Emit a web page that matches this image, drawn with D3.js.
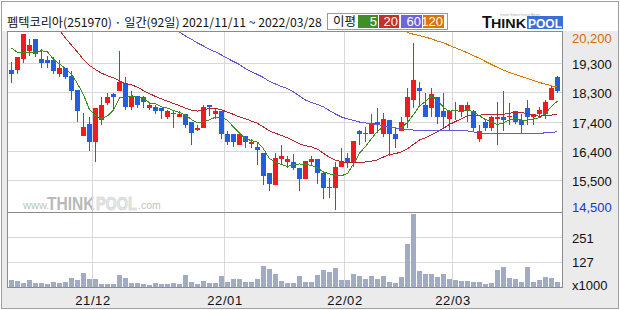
<!DOCTYPE html>
<html>
<head>
<meta charset="utf-8">
<script src="https://cdn.jsdelivr.net/npm/d3@7"></script>
<style>
  body { margin: 0; background: #fff; }
  svg { display: block; }
</style>
</head>
<body>
<div id="chart"></div>
<script>
// 92 trading days shown on the chart
const dates = [
  "21/11/11","21/11/12","21/11/15","21/11/16","21/11/17","21/11/18","21/11/19","21/11/22","21/11/23","21/11/24",
  "21/11/25","21/11/26","21/11/29","21/11/30",
  "21/12/01","21/12/02","21/12/03","21/12/06","21/12/07","21/12/08","21/12/09","21/12/10","21/12/13","21/12/14",
  "21/12/15","21/12/16","21/12/17","21/12/20","21/12/21","21/12/22","21/12/23","21/12/24","21/12/27","21/12/28",
  "21/12/29","21/12/30",
  "22/01/03","22/01/04","22/01/05","22/01/06","22/01/07","22/01/10","22/01/11","22/01/12","22/01/13","22/01/14",
  "22/01/17","22/01/18","22/01/19","22/01/20","22/01/21","22/01/24","22/01/25","22/01/26","22/01/27","22/01/28",
  "22/02/03","22/02/04","22/02/07","22/02/08","22/02/09","22/02/10","22/02/11","22/02/14","22/02/15","22/02/16",
  "22/02/17","22/02/18","22/02/21","22/02/22","22/02/23","22/02/24","22/02/25","22/02/28",
  "22/03/02","22/03/03","22/03/04","22/03/07","22/03/08","22/03/10","22/03/11","22/03/14","22/03/15","22/03/16",
  "22/03/17","22/03/18","22/03/21","22/03/22","22/03/23","22/03/24","22/03/25","22/03/28"
];

// daily prices, KRW
const open = [
  19050,19050,19400,19650,20050,19400,19350,19350,18900,19100,
  18850,18400,16900,17300,16700,17400,17950,18250,18350,18600,
  17850,18200,18150,17800,17850,17800,17500,17650,17500,17600,
  17350,17100,17150,17900,17600,17700,16950,16950,16600,16900,
  16650,16550,16350,15700,15300,16150,16050,16050,15850,15500,
  16050,16150,15700,15250,15200,15900,16200,16050,17050,16950,
  16950,17350,16950,17400,16950,17050,17500,18050,18450,17900,
  17800,18150,17700,17450,17700,17700,17750,17700,16800,17350,
  17150,17450,17500,17500,17700,17400,17800,17500,17600,17600,
  18050,18800
];
const high = [
  19300,19450,20200,20050,20050,19700,19500,19450,19350,19100,
  19000,18400,17650,17500,17800,18150,18300,18300,19650,18800,
  18350,18200,18200,18000,17900,17800,17750,17700,17700,17600,
  17350,17250,17900,17900,17800,17700,17050,16950,16950,16900,
  16800,16700,16350,15700,16350,16600,16250,16300,15850,16100,
  16250,16150,15750,15550,16050,16500,16350,16750,17100,17200,
  17600,17800,17650,17400,17200,17500,18450,19900,18650,18300,
  18450,18150,18300,17750,18000,17900,18000,17750,17250,17450,
  17550,18000,18350,17950,17700,17600,18050,17600,17850,18050,
  18500,18850
];
const low = [
  18600,18900,19250,19500,19450,19100,19100,18900,18800,18750,
  18050,17350,16900,16400,16050,17250,17900,17700,18350,17750,
  17750,17800,17800,17750,17600,17450,17450,17150,17500,17150,
  16600,17050,17150,17550,17450,16800,16600,16550,16600,16500,
  16500,15950,15300,15100,15300,15950,15850,15800,15100,15500,
  15950,15350,14850,14900,14500,15900,15850,15900,16600,16700,
  16950,17000,16850,16250,16500,17050,17150,17800,17900,17500,
  17500,17300,17150,17100,17400,17500,17350,17050,16700,17050,
  17050,16600,17050,17250,17300,17000,17250,17250,17550,17450,
  18050,18300
];
const close = [
  18900,19450,20200,19850,19550,19250,19250,19000,19100,18800,
  18350,17700,17200,16700,17800,17900,18150,18150,18650,17850,
  18200,17900,18000,17900,17700,17700,17700,17600,17600,17250,
  17000,17150,17850,17850,17700,16950,16700,16700,16950,16700,
  16700,16450,15600,15350,16200,16250,16150,15850,15500,16100,
  16150,15700,15200,15200,15900,16050,16050,16750,16950,17000,
  17300,17250,17450,16950,16800,17350,18150,18700,18350,17500,
  18250,17500,17500,17700,17750,17900,17900,17150,17050,17150,
  17500,17500,17400,17550,17350,17250,17500,17600,17750,18000,
  18450,18350
];
// volume, thousands of shares
const volume = [
  34,29,19,34,18,19,16,24,18,24,
  44,36,69,39,39,14,14,14,59,44,
  19,19,14,9,18,16,16,18,14,59,
  26,14,29,21,21,54,27,38,39,26,
  27,39,104,90,64,29,21,21,54,27,
  23,59,84,76,94,34,34,64,54,39,
  54,39,54,24,21,49,219,367,80,64,
  64,49,64,39,34,31,29,26,26,14,
  21,85,99,44,39,26,99,26,36,49,
  44,26
];

// moving-average values read off the chart where the older history is not in the data
const ma5Head = [19750, 19600, 19600, 19600];
const ma20Head = [null,null,null,null,null,null,null,null,20330,20060,19840,19610,19370,19180,19050,18930,18850,18780,18690];
const ma60 = Array(28).fill(null).concat([
  20260,20135,20030,19910,19810,19700,19620,19520,19410,19310,
  19210,19080,18980,18890,18790,18660,18580,18500,18430,18320,
  18190,18060,17980,17920,17840,17720,17610,17510,17450,17400,
  17350,17320,17290,17280,17220,17190,17160,17120,17110,17090,
  17060,17060,17060,17060,17060,17060,17060,17060,17060,17030,
  16980,16980,16980,16980,16980,16980,16980,16980,16980,16980,
  16980,17000,17020,17030
]);
const ma120 = Array(66).fill(null).concat([
  20250,20190,20150,20100,20040,19970,19920,19830,19750,19670,
  19590,19500,19410,19310,19210,19120,19030,18950,18890,18820,
  18760,18690,18630,18580,18520,18480
]);

const monthStarts = ["21/12/01", "22/01/03", "22/02/03", "22/03/02"];
const monthLabels = ["21/12", "22/01", "22/02", "22/03"];
const priceTicks = [20200, 19250, 18300, 17350, 16400, 15450, 14500];
const priceTickLabels = ["20,200", "19,300", "18,300", "17,400", "16,400", "15,500", "14,500"];
const volTicks = [127, 251];
const maNames = ["5", "20", "60", "120"];

const title = "펨텍코리아(251970) · 일간(92일) 2021/11/11 ~ 2022/03/28";

// colours
const UP = "#f01c1c", DOWN = "#1f5fe0";
const maColors = ["#3c8c1e", "#b4282d", "#6458d8", "#d87800"];
const legendColors = ["#3f8f25", "#c4302c", "#6e64dc", "#dc7400"];
const gridColor = "#d8d8d8";
const numFont = "'Liberation Sans Narrow','Liberation Sans',Arial,sans-serif";
const krFont = "'Noto Sans CJK KR','Noto Sans',sans-serif";

// layout
const W = 620, H = 310;
const frame = { left: 7, right: 562, top: 31, sep: 212, bottom: 287 };

const svg = d3.select("#chart").append("svg")
  .attr("width", W).attr("height", H);

// background: white title strip, grey frame, white plot
svg.append("rect").attr("width", W).attr("height", H).attr("fill", "#fff");
svg.append("rect").attr("x", 2).attr("y", frame.top).attr("width", 616).attr("height", 308 - frame.top)
  .attr("fill", "#ebebeb");
svg.append("rect").attr("x", 1.5).attr("y", 1.5).attr("width", 617).attr("height", 307)
  .attr("fill", "none").attr("stroke", "#a0a0a0");
svg.append("rect").attr("x", frame.left + 0.5).attr("y", frame.top + 0.5)
  .attr("width", frame.right - frame.left).attr("height", frame.bottom - frame.top)
  .attr("fill", "#fff");

// scales
const x = d3.scaleBand().domain(dates).range([8, 8 + 6 * dates.length]).padding(0);
const y = d3.scaleLinear().domain([14500, 20200]).range([210, 34]);
const yv = d3.scaleLinear().domain([0, 378]).range([frame.bottom, frame.sep]);

// watermark (condensed bold letters via a horizontal scale)
const wm = svg.append("g").attr("font-family", "'Liberation Sans',Arial,sans-serif");
wm.append("text").attr("x", 23).attr("y", 209).attr("font-size", 11).attr("fill", "#c2c2c2").text("www.");
wm.append("text").attr("transform", "translate(47,210) scale(0.82,1)")
  .attr("font-size", 19).attr("font-weight", "bold").attr("fill", "#b9b9b9").text("THINK");
wm.append("text").attr("transform", "translate(96,210) scale(0.76,1)")
  .attr("font-size", 19).attr("font-weight", "bold")
  .attr("fill", "#e6e6e6").attr("stroke", "#cfcfcf").attr("stroke-width", 0.6).text("POOL");
wm.append("text").attr("x", 138).attr("y", 209).attr("font-size", 10.5).attr("fill", "#c2c2c2").text(".com");

// grid
const grid = svg.append("g").attr("stroke", gridColor).attr("shape-rendering", "crispEdges");
grid.selectAll("line.v").data(monthStarts).join("line")
  .attr("x1", d => x(d) + 0.5).attr("x2", d => x(d) + 0.5)
  .attr("y1", frame.top).attr("y2", frame.bottom);
grid.selectAll("line.p").data(priceTicks.slice(1, -1)).join("line")
  .attr("x1", frame.left).attr("x2", frame.right)
  .attr("y1", d => Math.floor(y(d)) + 0.5).attr("y2", d => Math.floor(y(d)) + 0.5);
grid.selectAll("line.vol").data(volTicks).join("line")
  .attr("x1", frame.left).attr("x2", frame.right)
  .attr("y1", d => Math.round(yv(d)) + 0.5).attr("y2", d => Math.round(yv(d)) + 0.5);

// plot frame + panel separator
svg.append("rect").attr("x", frame.left + 0.5).attr("y", frame.top + 0.5)
  .attr("width", frame.right - frame.left).attr("height", frame.bottom - frame.top)
  .attr("fill", "none").attr("stroke", "#8c8c8c");
svg.append("line").attr("x1", frame.left).attr("x2", frame.right)
  .attr("y1", frame.sep + 0.5).attr("y2", frame.sep + 0.5).attr("stroke", "#8c8c8c");

// volume bars
svg.append("g").attr("shape-rendering", "crispEdges")
  .selectAll("rect").data(dates).join("rect")
  .attr("x", d => x(d) + 1).attr("width", 5)
  .attr("y", (d, i) => yv(volume[i]))
  .attr("height", (d, i) => frame.bottom - yv(volume[i]))
  .attr("fill", "#a2abc4");

// candles
const candleColor = i => close[i] >= open[i] ? UP : DOWN;
const cg = svg.append("g").attr("shape-rendering", "crispEdges");
cg.selectAll("rect.wick").data(dates).join("rect").attr("class", "wick")
  .attr("x", d => x(d) + 3).attr("width", 1)
  .attr("y", (d, i) => y(high[i]))
  .attr("height", (d, i) => Math.max(1, y(low[i]) - y(high[i])))
  .attr("fill", (d, i) => candleColor(i));
cg.selectAll("rect.body").data(dates).join("rect").attr("class", "body")
  .attr("x", d => x(d) + 1).attr("width", 5)
  .attr("y", (d, i) => y(Math.max(open[i], close[i])))
  .attr("height", (d, i) => Math.max(1.2, Math.abs(y(open[i]) - y(close[i]))))
  .attr("fill", (d, i) => candleColor(i));

// moving averages
function movingAvg(n, head) {
  return close.map((c, i) => i < n - 1 ? head[i] : d3.mean(close.slice(i - n + 1, i + 1)));
}
const maSeries = [movingAvg(5, ma5Head), movingAvg(20, ma20Head), ma60, ma120];

svg.append("clipPath").attr("id", "priceClip").append("rect")
  .attr("x", frame.left + 1).attr("y", frame.top + 1)
  .attr("width", frame.right - frame.left - 1).attr("height", frame.sep - frame.top - 1);

const line = d3.line()
  .defined(d => d != null)
  .x((d, i) => x(dates[i]) + 3.5)
  .y(d => y(d));

svg.append("g").attr("clip-path", "url(#priceClip)")
  .selectAll("path").data(maSeries).join("path")
  .attr("d", d => line(d))
  .attr("fill", "none")
  .attr("stroke", (d, k) => maColors[k])
  .attr("stroke-width", 1)
  .attr("shape-rendering", "crispEdges");

// right price axis
const yAxis = svg.append("g").attr("transform", "translate(572,0)")
  .call(d3.axisRight(y).tickValues(priceTicks).tickSize(0).tickPadding(0)
    .tickFormat((d, i) => priceTickLabels[i]));
yAxis.select(".domain").remove();
yAxis.selectAll("text")
  .attr("font-family", numFont).attr("font-size", 13)
  .attr("y", d => Math.min(Math.max(y(d) + 1, 38), 207) - y(d))
  .attr("fill", (d, i) => i === 0 ? "#d46c00" : i === priceTicks.length - 1 ? "#1c34d0" : "#111");

// right volume axis
const vAxis = svg.append("g").attr("transform", "translate(572,0)")
  .call(d3.axisRight(yv).tickValues(volTicks).tickSize(0).tickPadding(0));
vAxis.select(".domain").remove();
vAxis.selectAll("text").attr("font-family", numFont).attr("font-size", 13).attr("y", 1).attr("fill", "#111");
svg.append("text").attr("x", 572).attr("y", 286).attr("dy", "0.32em")
  .attr("font-family", numFont).attr("font-size", 13).attr("fill", "#111").text("x1000");

// month axis
const xAxis = svg.append("g").attr("transform", "translate(-2,300)")
  .call(d3.axisBottom(x).tickValues(monthStarts).tickSize(0).tickPadding(0)
    .tickFormat((d, i) => monthLabels[i]));
xAxis.select(".domain").remove();
xAxis.selectAll("text").attr("font-family", numFont).attr("font-size", 13)
  .attr("y", 0).attr("dy", "0.35em").attr("fill", "#111").attr("letter-spacing", 0.6);

// title, fitted to the width it takes in the reference
const t = svg.append("text").attr("x", 7).attr("y", 27)
  .attr("font-family", krFont).attr("font-size", 13).attr("fill", "#111").text(title);
const tw = t.node().getComputedTextLength();
t.attr("font-size", 13 * 315 / tw);

// MA legend
const lg = svg.append("g").attr("transform", "translate(327,13)");
lg.append("rect").attr("x", 0.5).attr("y", 0.5).attr("width", 120).attr("height", 16)
  .attr("fill", "#fff").attr("stroke", "#9a9a9a");
lg.append("text").attr("x", 6).attr("y", 13).attr("font-family", krFont).attr("font-size", 12.5)
  .attr("fill", "#111").text("이평");
const boxes = [[31, 20], [52, 20], [74, 21], [96, 21]];
const items = lg.selectAll("g.item").data(maNames).join("g");
items.append("rect")
  .attr("x", (d, k) => boxes[k][0]).attr("y", 2).attr("width", (d, k) => boxes[k][1]).attr("height", 13)
  .attr("fill", (d, k) => legendColors[k]);
items.append("text")
  .attr("x", (d, k) => boxes[k][0] + boxes[k][1] - 1).attr("y", 13)
  .attr("text-anchor", "end").attr("font-family", numFont).attr("font-size", 13)
  .attr("fill", "#fff").text(d => d);

// THINKPOOL logo
const logo = svg.append("g").attr("font-family", "'Liberation Sans',Arial,sans-serif").attr("font-weight", "bold");
logo.append("text").attr("x", 482).attr("y", 28).attr("font-size", 16).attr("fill", "#111").text("T");
logo.append("text").attr("x", 491).attr("y", 28).attr("font-size", 12.5).attr("fill", "#111")
  .attr("textLength", 35).attr("lengthAdjust", "spacingAndGlyphs").text("HINK");
logo.append("rect").attr("x", 527).attr("y", 16).attr("width", 36).attr("height", 13).attr("fill", "#3a6fd6");
logo.append("text").attr("x", 528).attr("y", 28).attr("font-size", 13).attr("fill", "#fff")
  .attr("textLength", 34).attr("lengthAdjust", "spacingAndGlyphs").text("POOL");
logo.append("text").attr("x", 500).attr("y", 16).attr("font-size", 3.5).attr("font-weight", "normal")
  .attr("fill", "#aaa").text("Invest Smart  Invest Better");
</script>
</body>
</html>
